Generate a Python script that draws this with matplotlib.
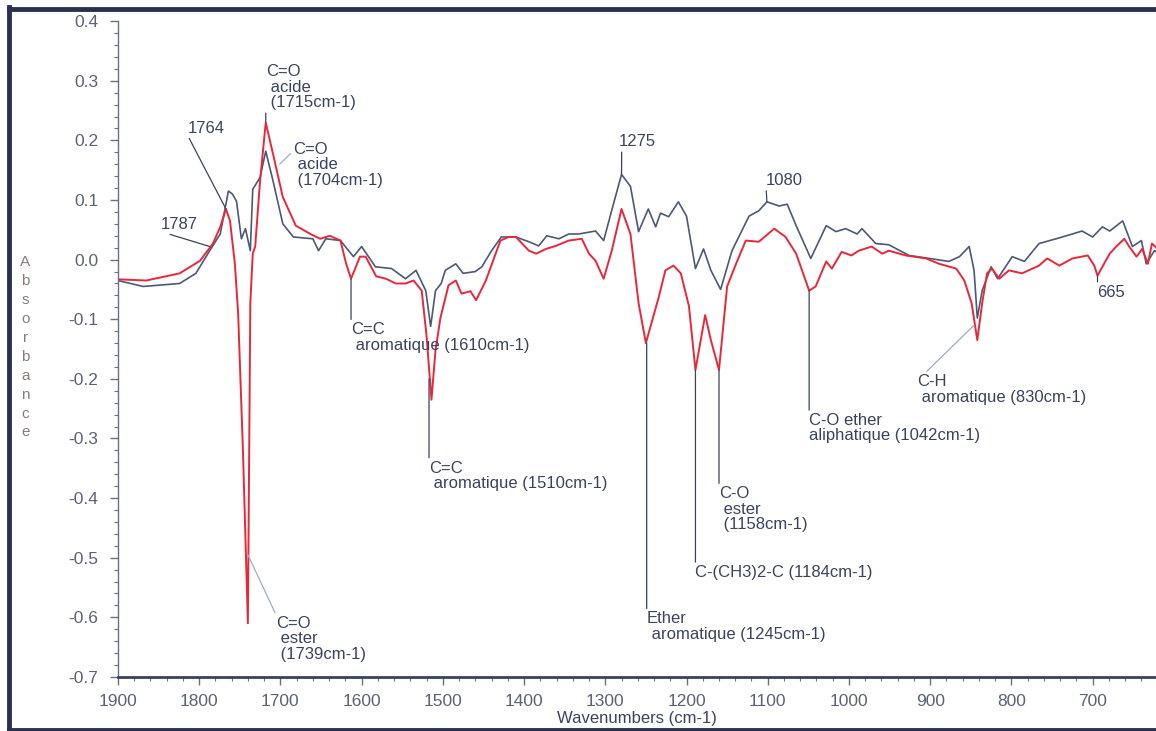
import matplotlib
matplotlib.use('Agg')
import matplotlib.pyplot as plt
from matplotlib.lines import Line2D
from matplotlib.ticker import MultipleLocator

plt.rcParams['font.family'] = ['Liberation Sans', 'DejaVu Sans']
plt.rcParams['axes.unicode_minus'] = False

# spectrum 1 (blue / grey trace)
wn_blue = [1900, 1869, 1824, 1804, 1787, 1774, 1764, 1759, 1754, 1748, 1743, 1737, 1734, 1725,
           1718, 1709, 1697, 1684, 1660, 1653, 1644, 1626, 1610, 1600, 1583, 1563, 1546, 1533,
           1521, 1515, 1509, 1502, 1497, 1484, 1475, 1460, 1452, 1440, 1428, 1410, 1394, 1382,
           1372, 1357, 1345, 1333, 1312, 1302, 1290, 1280, 1269, 1259, 1247, 1238, 1232, 1222,
           1210, 1200, 1189, 1179, 1170, 1158, 1144, 1123, 1111, 1101, 1086, 1076, 1065, 1047,
           1028, 1016, 1004, 990, 984, 967, 951, 926, 901, 877, 864, 852, 846, 842, 836, 825,
           817, 799, 784, 766, 745, 725, 713, 700, 688, 679, 663, 651, 640, 634, 624, 618]
abs_blue = [-0.035, -0.045, -0.040, -0.023, 0.015, 0.043, 0.115, 0.110, 0.098, 0.035, 0.052, 0.015,
            0.118, 0.138, 0.182, 0.132, 0.060, 0.038, 0.035, 0.015, 0.035, 0.032, 0.005, 0.022,
            -0.012, -0.015, -0.032, -0.018, -0.052, -0.112, -0.052, -0.040, -0.018, -0.007,
            -0.023, -0.020, -0.012, 0.015, 0.038, 0.038, 0.030, 0.023, 0.040, 0.035, 0.043,
            0.043, 0.048, 0.032, 0.093, 0.143, 0.123, 0.047, 0.085, 0.055, 0.078, 0.072, 0.097,
            0.073, -0.015, 0.018, -0.018, -0.050, 0.015, 0.073, 0.082, 0.097, 0.090, 0.093,
            0.057, 0.002, 0.057, 0.047, 0.052, 0.043, 0.052, 0.027, 0.025, 0.007, 0.002, -0.003,
            0.005, 0.022, -0.018, -0.098, -0.052, -0.012, -0.032, 0.005, -0.003, 0.027, 0.035,
            0.043, 0.048, 0.038, 0.055, 0.048, 0.065, 0.022, 0.032, -0.007, 0.015, 0.010]

# spectrum 2 (red trace)
wn_red = [1900, 1865, 1824, 1799, 1783, 1774, 1767, 1762, 1756, 1752, 1746, 1740, 1737, 1734,
          1731, 1725, 1718, 1709, 1697, 1681, 1663, 1651, 1639, 1626, 1619, 1613, 1602, 1595,
          1582, 1570, 1558, 1546, 1536, 1526, 1520, 1514, 1509, 1503, 1493, 1484, 1477, 1466,
          1459, 1447, 1435, 1429, 1419, 1410, 1394, 1385, 1373, 1361, 1345, 1329, 1320, 1312,
          1302, 1292, 1280, 1269, 1259, 1250, 1234, 1226, 1216, 1207, 1197, 1189, 1177, 1170,
          1160, 1150, 1139, 1127, 1111, 1092, 1078, 1065, 1049, 1041, 1028, 1021, 1009, 997,
          988, 972, 959, 951, 930, 905, 889, 868, 858, 849, 842, 836, 830, 824, 815, 803, 787,
          766, 756, 741, 725, 706, 698, 694, 688, 679, 671, 661, 655, 646, 639, 632, 627, 623, 618]
abs_red = [-0.033, -0.035, -0.023, -0.002, 0.027, 0.055, 0.085, 0.065, -0.007, -0.090, -0.323,
           -0.610, -0.073, 0.010, 0.022, 0.132, 0.230, 0.177, 0.105, 0.057, 0.043, 0.035, 0.040,
           0.032, -0.007, -0.032, 0.005, 0.005, -0.028, -0.032, -0.040, -0.040, -0.035, -0.052,
           -0.128, -0.235, -0.152, -0.098, -0.043, -0.035, -0.057, -0.053, -0.068, -0.035,
           0.010, 0.032, 0.038, 0.038, 0.015, 0.010, 0.018, 0.023, 0.032, 0.035, 0.010, -0.002,
           -0.032, 0.015, 0.085, 0.043, -0.073, -0.140, -0.062, -0.018, -0.010, -0.023, -0.078,
           -0.185, -0.093, -0.135, -0.185, -0.045, -0.007, 0.032, 0.030, 0.052, 0.038, 0.010,
           -0.052, -0.045, -0.003, -0.015, 0.013, 0.007, 0.015, 0.022, 0.010, 0.015, 0.007,
           0.002, -0.007, -0.015, -0.035, -0.073, -0.135, -0.073, -0.023, -0.015, -0.032,
           -0.018, -0.023, -0.010, 0.002, -0.010, 0.002, 0.007, -0.010, -0.027, -0.012, 0.010,
           0.022, 0.035, 0.022, 0.005, 0.018, -0.007, 0.027, 0.022, 0.015]

# annotations: text, target (wn, abs), text anchor (wn, abs), relpos, style
labels = [
    ('1787', (1787, 0.022), (1847, 0.047), (0, 0), 'dark'),
    ('1764', (1767, 0.085), (1814, 0.208), (0, 0), 'dark'),
    ('C=O\n acide\n (1715cm-1)', (1718, 0.230), (1718, 0.328), (0, 0.88), 'dark'),
    ('C=O\n acide\n (1704cm-1)', (1701, 0.160), (1684, 0.198), (0, 0.8), 'light'),
    ('C=C\n aromatique (1610cm-1)', (1613, -0.032), (1613, -0.105), (0, 1), 'dark'),
    ('C=C\n aromatique (1510cm-1)', (1517, -0.200), (1517, -0.337), (0, 1), 'dark'),
    ('C=O\n ester\n (1739cm-1)', (1740, -0.495), (1705, -0.597), (0, 1), 'light'),
    ('1275', (1280, 0.143), (1283, 0.185), (0.07, 0), 'dark'),
    ('Ether\n aromatique (1245cm-1)', (1249, -0.140), (1249, -0.590), (0, 1), 'dark'),
    ('C-(CH3)2-C (1184cm-1)', (1189, -0.185), (1189, -0.512), (0, 1), 'dark'),
    ('C-O\n ester\n (1158cm-1)', (1160, -0.185), (1160, -0.380), (0, 1), 'dark'),
    ('1080', (1101, 0.097), (1102, 0.120), (0, 0), 'dark'),
    ('C-O ether\naliphatique (1042cm-1)', (1049, -0.052), (1049, -0.257), (0, 1), 'dark'),
    ('C-H\n aromatique (830cm-1)', (846, -0.110), (916, -0.192), (0.04, 1), 'light'),
    ('665', (694, -0.027), (694, -0.042), (0, 1), 'dark'),
]

text_col = '#3a4262'
fig = plt.figure(figsize=(11.56, 7.31), dpi=100)
ax = fig.add_axes([0.102, 0.074, 0.898, 0.897])

ax.plot(wn_blue, abs_blue, color='#4c5878', lw=1.2)
ax.plot(wn_red, abs_red, color='#e8283a', lw=1.4)

for txt, xy, xyt, rp, style in labels:
    lc = text_col if style == 'dark' else '#9aaec4'
    va = 'bottom' if rp[1] == 0 else 'top'
    ax.annotate(txt, xy=xy, xytext=xyt, ha='left', va=va, fontsize=12,
                color=text_col, linespacing=1.05,
                arrowprops=dict(arrowstyle='-', color=lc, lw=0.9,
                                shrinkA=0, shrinkB=0, relpos=rp))

ax.set_xlim(1900, 622)
ax.set_ylim(-0.70, 0.40)
ax.xaxis.set_major_locator(MultipleLocator(100))
ax.xaxis.set_minor_locator(MultipleLocator(20))
ax.yaxis.set_major_locator(MultipleLocator(0.1))
ax.yaxis.set_minor_locator(MultipleLocator(0.02))
ax.yaxis.set_major_formatter(plt.FuncFormatter(lambda v, p: f'{v:.1f}'.replace('-0.0', '0.0')))

for s in ['top', 'right']:
    ax.spines[s].set_visible(False)
ax.spines['left'].set_color('#6a7088')
ax.spines['left'].set_linewidth(1.0)
ax.spines['bottom'].set_color('#3a4262')
ax.spines['bottom'].set_linewidth(2.0)
ax.tick_params(axis='both', which='major', length=6, width=1, colors='#6a7088',
               labelsize=12.5, labelcolor='#5c6275')
ax.tick_params(axis='both', which='minor', length=3, width=0.8, colors='#6a7088')
ax.tick_params(axis='x', pad=6)
ax.tick_params(axis='y', pad=8)

ax.set_xlabel('Wavenumbers (cm-1)', fontsize=12, color=text_col, labelpad=2)
fig.text(0.022, 0.525, '\n'.join('Absorbance'), ha='center', va='center',
         fontsize=11, color='#8a7c78', linespacing=1.45)

# dark frame of the scanned page
for xs, ys in [([0.008, 0.008], [0.0, 0.99]), ([0.008, 1.0], [0.988, 0.988]),
               ([0.008, 1.0], [0.001, 0.001])]:
    fig.add_artist(Line2D(xs, ys, transform=fig.transFigure, color='#2a3050', lw=3.5))

fig.savefig('out.png', dpi=100)
